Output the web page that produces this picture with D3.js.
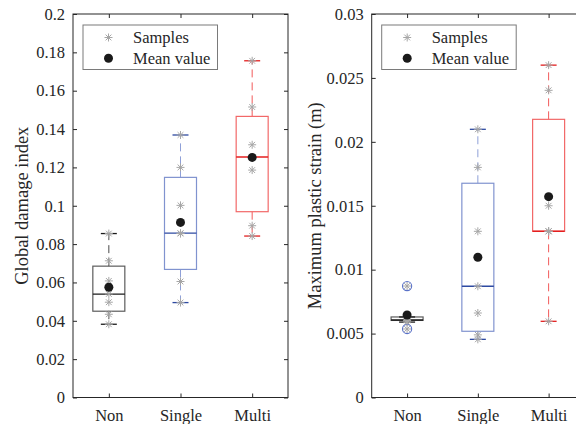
<!DOCTYPE html>
<html>
<head>
<meta charset="utf-8">
<script src="https://cdn.jsdelivr.net/npm/d3@7"></script>
<style>
  html, body { margin: 0; padding: 0; background: #fff; }
  svg { display: block; }
</style>
</head>
<body>
<svg id="chart" width="576" height="424"></svg>
<script>
// Loading groups on the x axis
const categories = ["Non", "Single", "Multi"];

// Global damage index: individual samples and box statistics
const gdiSamples = [
  [0.0855, 0.0713, 0.0608, 0.0540, 0.0497, 0.0434, 0.0382],
  [0.1369, 0.1200, 0.1002, 0.0857, 0.0855, 0.0605, 0.0495],
  [0.1756, 0.1515, 0.1318, 0.1252, 0.1186, 0.0896, 0.0842]
];
const gdiQ1 = [0.0450, 0.0668, 0.0969];
const gdiMedian = [0.0539, 0.0857, 0.1254];
const gdiQ3 = [0.0685, 0.1148, 0.1466];
const gdiWhiskerLow = [0.0382, 0.0495, 0.0842];
const gdiWhiskerHigh = [0.0855, 0.1369, 0.1756];
const gdiMean = [0.0575, 0.0913, 0.1252];
const gdiOutliers = [[], [], []];
const gdiTicks = [0, 0.02, 0.04, 0.06, 0.08, 0.1, 0.12, 0.14, 0.16, 0.18, 0.2];
const gdiTickLabels = ["0", "0.02", "0.04", "0.06", "0.08", "0.1", "0.12", "0.14", "0.16", "0.18", "0.2"];

// Maximum plastic strain (m): individual samples and box statistics
const mpsSamples = [
  [0.00872, 0.00630, 0.00620, 0.00606, 0.00603, 0.00590, 0.00536],
  [0.02098, 0.01800, 0.01300, 0.00870, 0.00661, 0.00490, 0.00455],
  [0.02600, 0.02403, 0.01500, 0.01300, 0.01300, 0.01300, 0.00596]
];
const mpsQ1 = [0.00603, 0.00518, 0.01300];
const mpsMedian = [0.00606, 0.00870, 0.01300];
const mpsQ3 = [0.00630, 0.01676, 0.02176];
const mpsWhiskerLow = [0.00590, 0.00455, 0.00596];
const mpsWhiskerHigh = [0.00630, 0.02098, 0.02600];
const mpsMean = [0.00645, 0.01097, 0.01571];
const mpsOutliers = [[0.00872, 0.00536], [], []];
const mpsTicks = [0, 0.005, 0.01, 0.015, 0.02, 0.025, 0.03];
const mpsTickLabels = ["0", "0.005", "0.01", "0.015", "0.02", "0.025", "0.03"];

// Per-group colours: light outline / dashed whisker, dark median / caps
const boxColor = ["#5c5c5c", "#8093cf", "#f26868"];
const whiskerColor = ["#4a4a4a", "#8fa0d8", "#f25a5a"];
const darkColor = ["#1a1a1a", "#2e4aa2", "#e41e1e"];
const outlierColor = "#5a72c8";
const sampleColor = "#a6a6a6";
const axisColor = "#262626";
const serif = "'Liberation Serif', 'Times New Roman', Times, serif";

const svg = d3.select("#chart");

function starPath(cx, cy, r) {
  const d = r * 0.72;
  return `M${cx - r},${cy}L${cx + r},${cy}M${cx},${cy - r}L${cx},${cy + r}` +
         `M${cx - d},${cy - d}L${cx + d},${cy + d}M${cx - d},${cy + d}L${cx + d},${cy - d}`;
}

function styleText(sel, size) {
  sel.attr("font-family", null)
    .style("font-family", serif)
    .style("font-size", size)
    .attr("fill", axisColor);
}

function drawPanel(cfg) {
  const g = svg.append("g");
  const x = d3.scalePoint().domain(categories).range([cfg.left, cfg.right]).padding(0.5);
  const y = d3.scaleLinear().domain([0, cfg.yMax]).range([cfg.bottom, cfg.top]);
  const boxW = 32, capW = 16;

  // frame
  g.append("rect")
    .attr("x", cfg.left).attr("y", cfg.top)
    .attr("width", cfg.right - cfg.left).attr("height", cfg.bottom - cfg.top)
    .attr("fill", "none").attr("stroke", axisColor).attr("stroke-width", 1);

  // y axis (inward ticks)
  const yAxis = d3.axisLeft(y).tickValues(cfg.ticks)
    .tickFormat((d, i) => cfg.tickLabels[i]).tickSize(-4).tickPadding(8);
  const ya = g.append("g").attr("transform", `translate(${cfg.left},0)`).call(yAxis);
  ya.attr("font-family", null);
  ya.select(".domain").remove();
  ya.selectAll("line").attr("stroke", axisColor);
  styleText(ya.selectAll("text"), "16.5px");

  const yAxisR = d3.axisRight(y).tickValues(cfg.ticks).tickFormat("").tickSize(-4);
  const yr = g.append("g").attr("transform", `translate(${cfg.right},0)`).call(yAxisR);
  yr.select(".domain").remove();
  yr.selectAll("line").attr("stroke", axisColor);

  // x axis (inward ticks)
  const xAxis = d3.axisBottom(x).tickSize(-4).tickPadding(12);
  const xa = g.append("g").attr("transform", `translate(0,${cfg.bottom})`).call(xAxis);
  xa.attr("font-family", null);
  xa.select(".domain").remove();
  xa.selectAll("line").attr("stroke", axisColor);
  styleText(xa.selectAll("text"), "16.5px");

  const xAxisT = d3.axisTop(x).tickFormat("").tickSize(-4);
  const xt = g.append("g").attr("transform", `translate(0,${cfg.top})`).call(xAxisT);
  xt.select(".domain").remove();
  xt.selectAll("line").attr("stroke", axisColor);

  // y label
  const yl = g.append("text")
    .attr("transform", `translate(${cfg.labelX},${(cfg.top + cfg.bottom) / 2}) rotate(-90)`)
    .attr("text-anchor", "middle")
    .text(cfg.label);
  styleText(yl, "18.5px");

  // boxes
  categories.forEach((c, i) => {
    const cx = x(c);
    const bg = g.append("g");
    // whiskers
    bg.append("line").attr("x1", cx).attr("x2", cx)
      .attr("y1", y(cfg.q3[i])).attr("y2", y(cfg.high[i]))
      .attr("stroke", whiskerColor[i]).attr("stroke-dasharray", "8,5");
    bg.append("line").attr("x1", cx).attr("x2", cx)
      .attr("y1", y(cfg.q1[i])).attr("y2", y(cfg.low[i]))
      .attr("stroke", whiskerColor[i]).attr("stroke-dasharray", "8,5");
    // box
    bg.append("rect")
      .attr("x", cx - boxW / 2).attr("y", y(cfg.q3[i]))
      .attr("width", boxW).attr("height", Math.max(0.5, y(cfg.q1[i]) - y(cfg.q3[i])))
      .attr("fill", "none").attr("stroke", boxColor[i]).attr("stroke-width", 1.2);
    // caps
    [cfg.low[i], cfg.high[i]].forEach(v => {
      bg.append("line").attr("x1", cx - capW / 2).attr("x2", cx + capW / 2)
        .attr("y1", y(v)).attr("y2", y(v))
        .attr("stroke", darkColor[i]).attr("stroke-width", 1.3);
    });
    // median
    bg.append("line").attr("x1", cx - boxW / 2).attr("x2", cx + boxW / 2)
      .attr("y1", y(cfg.median[i])).attr("y2", y(cfg.median[i]))
      .attr("stroke", darkColor[i]).attr("stroke-width", 1.4);
    // outliers
    cfg.outliers[i].forEach(v => {
      bg.append("circle").attr("cx", cx).attr("cy", y(v)).attr("r", 4.6)
        .attr("fill", "none").attr("stroke", outlierColor).attr("stroke-width", 1.1);
    });
    // samples
    cfg.samples[i].forEach(v => {
      bg.append("path").attr("d", starPath(cx, y(v), 4))
        .attr("stroke", sampleColor).attr("stroke-width", 1).attr("fill", "none");
    });
    // mean
    bg.append("circle").attr("cx", cx).attr("cy", y(cfg.mean[i])).attr("r", 4.5)
      .attr("fill", "#1a1a1a");
  });

  // legend
  const lg = g.append("g");
  lg.append("rect")
    .attr("x", cfg.left + 10).attr("y", 25).attr("width", 134.5).attr("height", 44.5)
    .attr("fill", "#fff").attr("stroke", "#7a7a7a").attr("stroke-width", 1);
  const mx = cfg.left + 35.5;
  lg.append("path").attr("d", starPath(mx, 37.5, 4))
    .attr("stroke", sampleColor).attr("stroke-width", 1).attr("fill", "none");
  lg.append("circle").attr("cx", mx).attr("cy", 58.3).attr("r", 4.5).attr("fill", "#1a1a1a");
  styleText(lg.append("text").attr("x", cfg.left + 60).attr("y", 43.3).text("Samples"), "16.5px");
  styleText(lg.append("text").attr("x", cfg.left + 60).attr("y", 64).text("Mean value"), "16.5px");
}

drawPanel({
  left: 73, right: 288, top: 14, bottom: 397.5, yMax: 0.2,
  ticks: gdiTicks, tickLabels: gdiTickLabels, labelX: 28,
  label: "Global damage index",
  samples: gdiSamples, q1: gdiQ1, median: gdiMedian, q3: gdiQ3,
  low: gdiWhiskerLow, high: gdiWhiskerHigh, mean: gdiMean, outliers: gdiOutliers
});

drawPanel({
  left: 371.7, right: 584, top: 14, bottom: 397.5, yMax: 0.03,
  ticks: mpsTicks, tickLabels: mpsTickLabels, labelX: 321,
  label: "Maximum plastic strain (m)",
  samples: mpsSamples, q1: mpsQ1, median: mpsMedian, q3: mpsQ3,
  low: mpsWhiskerLow, high: mpsWhiskerHigh, mean: mpsMean, outliers: mpsOutliers
});
</script>
</body>
</html>
